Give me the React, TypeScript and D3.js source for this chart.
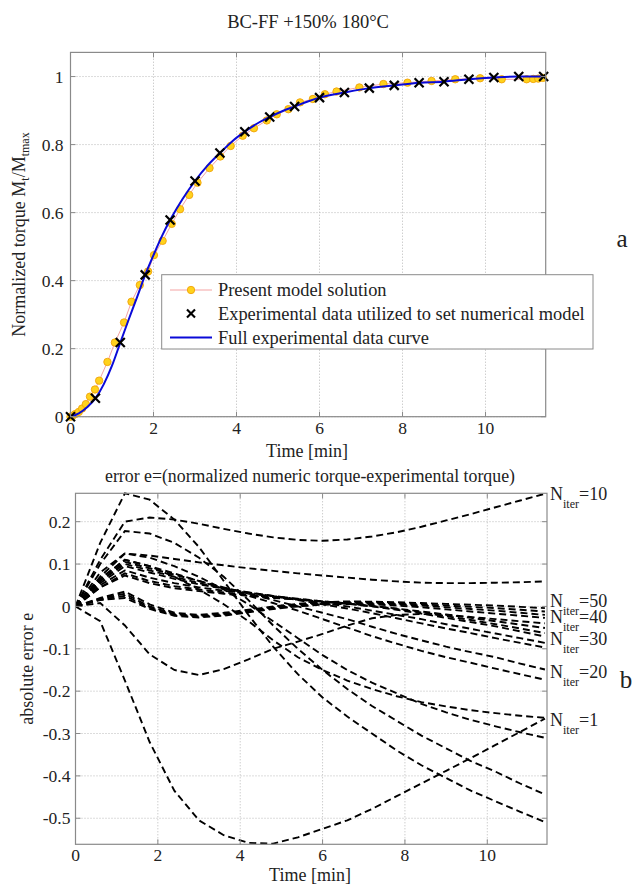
import React from "react";
import * as d3 from "d3";

// ---------- Data: top panel ----------
const X_TICKS = [0, 2, 4, 6, 8, 10];
const TOP_Y_TICKS = [0, 0.2, 0.4, 0.6, 0.8, 1];
const BOT_Y_TICKS = [-0.5, -0.4, -0.3, -0.2, -0.1, 0, 0.1, 0.2];

// experimental data utilized to set numerical model (crosses), every 0.6 min
const EXP_T = [0, 0.6, 1.2, 1.8, 2.4, 3.0, 3.6, 4.2, 4.8, 5.4, 6.0, 6.6, 7.2, 7.8, 8.4, 9.0, 9.6, 10.2, 10.8, 11.4];
const EXP_V = [0, 0.054, 0.218, 0.417, 0.578, 0.693, 0.775, 0.838, 0.881, 0.912, 0.938, 0.953, 0.966, 0.974, 0.982, 0.985, 0.992, 0.997, 1.0, 1.0];

// full experimental data curve (blue)
const FULL_T = [0, 0.2, 0.4, 0.6, 0.8, 1.0, 1.2, 1.4, 1.6, 1.8, 2.0, 2.2, 2.4, 2.7, 3.0, 3.3, 3.6, 3.9, 4.2, 4.5, 4.8, 5.1, 5.4, 5.7, 6.0, 6.6, 7.2, 7.8, 8.4, 9.0, 9.6, 10.2, 10.8, 11.4];
const FULL_V = [0, 0.01, 0.028, 0.054, 0.095, 0.15, 0.218, 0.285, 0.35, 0.417, 0.475, 0.53, 0.578, 0.64, 0.693, 0.738, 0.775, 0.81, 0.838, 0.862, 0.881, 0.898, 0.912, 0.926, 0.938, 0.953, 0.966, 0.974, 0.982, 0.985, 0.992, 0.997, 1.0, 1.0];

// present model solution (circles)
const MODEL_T = [0, 0.05, 0.12, 0.2, 0.28, 0.37, 0.47, 0.59, 0.69, 0.89, 1.07, 1.29, 1.47, 1.67, 1.87, 2.01, 2.22, 2.44, 2.64, 2.86, 3.06, 3.35, 3.61, 3.86, 4.15, 4.42, 4.73, 4.97, 5.25, 5.53, 5.84, 6.13, 6.41, 6.96, 7.54, 8.12, 8.7, 9.27, 9.87, 10.39, 10.99, 11.15, 11.27, 11.38];
const MODEL_V = [0, 0.003, 0.008, 0.014, 0.024, 0.037, 0.059, 0.08, 0.106, 0.161, 0.218, 0.277, 0.338, 0.387, 0.427, 0.475, 0.517, 0.567, 0.61, 0.652, 0.688, 0.731, 0.765, 0.796, 0.826, 0.848, 0.871, 0.889, 0.904, 0.924, 0.934, 0.948, 0.956, 0.968, 0.978, 0.982, 0.987, 0.992, 0.995, 0.992, 0.992, 0.993, 0.994, 0.996];

// ---------- Data: bottom panel (error curves at experimental times) ----------
const ERR_T = EXP_T;
const ERR_N1 = [0, -0.035, -0.175, -0.32, -0.435, -0.505, -0.54, -0.558, -0.56, -0.545, -0.525, -0.505, -0.478, -0.448, -0.418, -0.388, -0.358, -0.327, -0.296, -0.265];
const ERR_B = [0, 0.15, 0.267, 0.252, 0.205, 0.14, 0.06, -0.02, -0.095, -0.16, -0.215, -0.26, -0.3, -0.34, -0.375, -0.405, -0.435, -0.46, -0.485, -0.509];
const ERR_C = [0, 0.1, 0.178, 0.172, 0.15, 0.115, 0.07, 0.015, -0.045, -0.1, -0.15, -0.195, -0.235, -0.27, -0.305, -0.335, -0.365, -0.39, -0.418, -0.444];
const ERR_N10 = [0, 0.11, 0.2, 0.21, 0.205, 0.195, 0.183, 0.172, 0.163, 0.157, 0.155, 0.158, 0.165, 0.175, 0.188, 0.203, 0.218, 0.234, 0.25, 0.266];
const ERR_E = [0, 0.07, 0.125, 0.12, 0.112, 0.104, 0.097, 0.09, 0.084, 0.078, 0.073, 0.068, 0.063, 0.059, 0.056, 0.055, 0.055, 0.056, 0.057, 0.059];
const ERR_D = [0, 0.008, -0.045, -0.113, -0.15, -0.162, -0.148, -0.125, -0.1, -0.083, -0.065, -0.045, -0.028, -0.02, -0.018, -0.02, -0.025, -0.03, -0.035, -0.04];
const ERR_BETA = [0, 0.065, 0.11, 0.095, 0.07, 0.04, 0.005, -0.035, -0.08, -0.12, -0.15, -0.175, -0.195, -0.212, -0.226, -0.236, -0.245, -0.252, -0.258, -0.263];
const ERR_GAMMA = [0, 0.08, 0.125, 0.115, 0.095, 0.07, 0.04, 0.005, -0.035, -0.075, -0.115, -0.15, -0.18, -0.205, -0.23, -0.25, -0.268, -0.283, -0.297, -0.31];
const ERR_F = [0, 0.06, 0.105, 0.09, 0.075, 0.06, 0.045, 0.03, 0.015, 0, -0.015, -0.03, -0.048, -0.065, -0.08, -0.095, -0.108, -0.12, -0.135, -0.149];
const ERR_G = [0, 0.065, 0.11, 0.095, 0.078, 0.06, 0.042, 0.025, 0.008, -0.01, -0.03, -0.05, -0.07, -0.088, -0.105, -0.12, -0.133, -0.147, -0.16, -0.173];
const ERR_H = [0, 0.055, 0.095, 0.08, 0.065, 0.052, 0.042, 0.033, 0.025, 0.017, 0.008, 0, -0.01, -0.02, -0.03, -0.042, -0.053, -0.064, -0.075, -0.086];
const ERR_I = [0, 0.06, 0.1, 0.085, 0.07, 0.055, 0.043, 0.033, 0.024, 0.015, 0.005, -0.005, -0.016, -0.028, -0.04, -0.052, -0.063, -0.075, -0.086, -0.097];
const ERR_J = [0, 0.05, 0.085, 0.068, 0.055, 0.045, 0.037, 0.03, 0.024, 0.018, 0.012, 0.007, 0.001, -0.005, -0.012, -0.019, -0.027, -0.035, -0.043, -0.051];
const ERR_K = [0, 0.045, 0.078, 0.06, 0.048, 0.04, 0.033, 0.027, 0.022, 0.017, 0.012, 0.007, 0.001, -0.006, -0.014, -0.023, -0.032, -0.042, -0.052, -0.063];
const ERR_L = [0, 0.045, 0.073, 0.055, 0.043, 0.036, 0.03, 0.025, 0.02, 0.016, 0.011, 0.006, 0, -0.008, -0.017, -0.027, -0.037, -0.047, -0.059, -0.071];
const ERR_M1 = [0, 0.02, 0.035, 0.005, -0.015, -0.02, -0.015, -0.008, 0, 0.006, 0.01, 0.012, 0.011, 0.01, 0.008, 0.006, 0.004, 0.002, -0.001, -0.004];
const ERR_M2 = [0, 0.018, 0.03, 0, -0.018, -0.022, -0.018, -0.01, -0.002, 0.004, 0.008, 0.01, 0.009, 0.007, 0.005, 0.002, -0.001, -0.004, -0.008, -0.012];
const ERR_M3 = [0, 0.016, 0.025, -0.003, -0.02, -0.024, -0.02, -0.012, -0.004, 0.002, 0.006, 0.008, 0.007, 0.005, 0.002, -0.002, -0.006, -0.01, -0.015, -0.02];
const ERR_M4 = [0, 0.015, 0.02, -0.006, -0.022, -0.026, -0.022, -0.014, -0.006, 0, 0.004, 0.006, 0.005, 0.002, -0.002, -0.007, -0.012, -0.017, -0.022, -0.027];

const ERR_SERIES = [ERR_N1, ERR_B, ERR_C, ERR_N10, ERR_E, ERR_D, ERR_BETA, ERR_GAMMA, ERR_F, ERR_G, ERR_H, ERR_I, ERR_J, ERR_K, ERR_L, ERR_M1, ERR_M2, ERR_M3, ERR_M4];

const ITER_LABELS = ["10", "50", "40", "30", "20", "1"];
const ITER_LABEL_V = [0.267, 0.014, -0.024, -0.076, -0.154, -0.267];

const LEGEND_TEXT = [
  "Present model solution",
  "Experimental data utilized to set numerical model",
  "Full experimental data curve",
];

const FONT = "Liberation Serif";

export default function App() {
  const W = 634, H = 886;
  // top panel
  const tx = d3.scaleLinear().domain([0, 11.45]).range([70.5, 545.7]);
  const ty = d3.scaleLinear().domain([0, 1.071]).range([416.7, 52.4]);
  // bottom panel
  const bx = d3.scaleLinear().domain([0, 11.45]).range([75.5, 547]);
  const by = d3.scaleLinear().domain([-0.5615, 0.267]).range([844.3, 493.3]);

  const fullLine = d3.line<number>().x((_, i) => tx(FULL_T[i])).y((d) => ty(d)).curve(d3.curveMonotoneX);
  const modelLine = d3.line<number>().x((_, i) => tx(MODEL_T[i])).y((d) => ty(d));
  const errLine = d3.line<number>().x((_, i) => bx(ERR_T[i])).y((d) => by(d));

  const gridColor = "#b8b8b8";
  const axisColor = "#8a8a8a";
  const tickLen = 5;

  const grid = (x: d3.ScaleLinear<number, number>, y: d3.ScaleLinear<number, number>, yTicks: number[], key: string) => {
    const [x0, x1] = x.range();
    const [y0, y1] = y.range();
    return (
      <g key={key}>
        {X_TICKS.map((t) => (
          <line key={"gx" + t} x1={x(t)} x2={x(t)} y1={y0} y2={y1} stroke={gridColor} strokeDasharray="1,2" strokeWidth={1} />
        ))}
        {yTicks.map((t) => (
          <line key={"gy" + t} x1={x0} x2={x1} y1={y(t)} y2={y(t)} stroke={gridColor} strokeDasharray="1,2" strokeWidth={1} />
        ))}
      </g>
    );
  };

  const box = (x: d3.ScaleLinear<number, number>, y: d3.ScaleLinear<number, number>, yTicks: number[], fmt: (v: number) => string, key: string, labelGap: number) => {
    const [x0, x1] = x.range();
    const [y0, y1] = y.range();
    return (
      <g key={key}>
        <rect x={x0} y={y1} width={x1 - x0} height={y0 - y1} fill="none" stroke={axisColor} strokeWidth={1.2} />
        {X_TICKS.map((t) => (
          <g key={"tx" + t}>
            <line x1={x(t)} x2={x(t)} y1={y0} y2={y0 - tickLen} stroke={axisColor} />
            <line x1={x(t)} x2={x(t)} y1={y1} y2={y1 + tickLen} stroke={axisColor} />
            <text x={x(t)} y={y0 + 17} textAnchor="middle" fontSize={17.5} fontFamily={FONT} fill="#222">{t}</text>
          </g>
        ))}
        {yTicks.map((t) => (
          <g key={"ty" + t}>
            <line x1={x0} x2={x0 + tickLen} y1={y(t)} y2={y(t)} stroke={axisColor} />
            <line x1={x1} x2={x1 - tickLen} y1={y(t)} y2={y(t)} stroke={axisColor} />
            <text x={x0 - labelGap} y={y(t)} dy="0.35em" textAnchor="end" fontSize={17.5} fontFamily={FONT} fill="#222">{fmt(t)}</text>
          </g>
        ))}
      </g>
    );
  };

  const fmt = (v: number) => String(v);

  const cross = (cx: number, cy: number, s: number, k: string) => (
    <g key={k} stroke="#000" strokeWidth={2.2}>
      <line x1={cx - s} y1={cy - s} x2={cx + s} y2={cy + s} />
      <line x1={cx - s} y1={cy + s} x2={cx + s} y2={cy - s} />
    </g>
  );

  const legX = 161.7, legY = 274.7, legW = 431.3, legH = 74.3;
  const rowY = [290, 313.5, 337.5];

  return (
    <svg width={W} height={H} style={{ position: "absolute", left: 0, top: 0, background: "#fff" }} fontFamily={FONT}>
      <rect x={0} y={0} width={W} height={H} fill="#fff" />
      <defs>
        <clipPath id="clipB">
          <rect x={bx.range()[0]} y={by.range()[1] - 2} width={bx.range()[1] - bx.range()[0] + 2} height={by.range()[0] - by.range()[1] + 4} />
        </clipPath>
      </defs>
      {/* ---------------- TOP PANEL ---------------- */}
      <text x={308} y={28} textAnchor="middle" fontSize={18.5} fill="#222">BC-FF +150% 180°C</text>
      {grid(tx, ty, TOP_Y_TICKS, "g1")}
      <path d={modelLine(MODEL_V) || ""} fill="none" stroke="#f4a3a3" strokeWidth={1} />
      {MODEL_V.map((v, i) => (
        <circle key={"m" + i} cx={tx(MODEL_T[i])} cy={ty(v)} r={3.7} fill="#ffd21c" stroke="#f0a30a" strokeWidth={0.9} />
      ))}
      <path d={fullLine(FULL_V) || ""} fill="none" stroke="#0a0ad8" strokeWidth={2} />
      {EXP_V.map((v, i) => cross(tx(EXP_T[i]), ty(v), 4.5, "x" + i))}
      {box(tx, ty, TOP_Y_TICKS, fmt, "b1", 7)}
      <text x={307} y={451} dy="0.35em" textAnchor="middle" fontSize={18} fill="#222">Time [min]</text>
      <text transform={`translate(19,234.5) rotate(-90)`} textAnchor="middle" dy="0.35em" fontSize={18} fill="#222">
        Normalized torque M<tspan fontSize={12} dy={4}>t</tspan><tspan dy={-4}>/M</tspan><tspan fontSize={12} dy={4}>tmax</tspan>
      </text>
      {/* legend */}
      <rect x={legX} y={legY} width={legW} height={legH} fill="#fff" stroke="#8a8a8a" strokeWidth={1} />
      <line x1={170} x2={212} y1={rowY[0]} y2={rowY[0]} stroke="#f4a3a3" strokeWidth={1} />
      <circle cx={191} cy={rowY[0]} r={3.7} fill="#ffd21c" stroke="#f0a30a" strokeWidth={0.9} />
      {cross(191, rowY[1], 4, "legx")}
      <line x1={170} x2={212} y1={rowY[2]} y2={rowY[2]} stroke="#0a0ad8" strokeWidth={2} />
      {LEGEND_TEXT.map((t, i) => (
        <text key={"lt" + i} x={218} y={rowY[i]} dy="0.33em" fontSize={18.4} fill="#222">{t}</text>
      ))}
      <text x={622} y={247} textAnchor="middle" fontSize={25} fill="#222">a</text>

      {/* ---------------- BOTTOM PANEL ---------------- */}
      <text x={310} y={476} dy="0.35em" textAnchor="middle" fontSize={17.8} fill="#222">error e=(normalized numeric torque-experimental torque)</text>
      {grid(bx, by, BOT_Y_TICKS, "g2")}
      <g clipPath="url(#clipB)">
        {ERR_SERIES.map((s, i) => (
          <path key={"e" + i} d={errLine(s) || ""} fill="none" stroke="#000" strokeWidth={1.9} strokeDasharray="7,4" />
        ))}
      </g>
      {box(bx, by, BOT_Y_TICKS, fmt, "b2", 5)}
      {ITER_LABELS.map((l, i) => (
        <text key={"il" + i} x={550} y={by(ITER_LABEL_V[i])} dy="0.35em" fontSize={18} fill="#222">
          N<tspan fontSize={12} dy={8}>iter</tspan><tspan dy={-8}>={l}</tspan>
        </text>
      ))}
      <text x={626} y={688} textAnchor="middle" fontSize={25} fill="#222">b</text>
      <text x={310} y={879} textAnchor="middle" fontSize={18} fill="#222" dy="0.1em">Time [min]</text>
      <text transform={`translate(27,668.8) rotate(-90)`} textAnchor="middle" dy="0.35em" fontSize={18} fill="#222">absolute error e</text>
    </svg>
  );
}
